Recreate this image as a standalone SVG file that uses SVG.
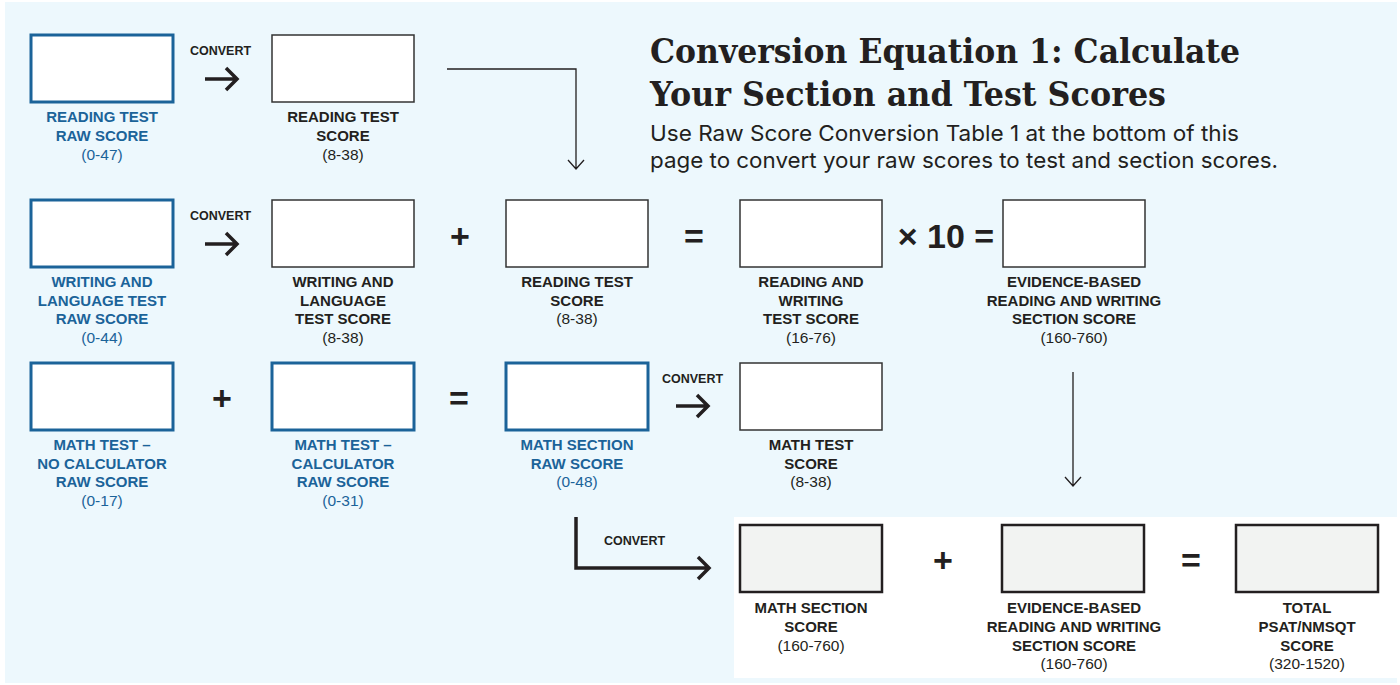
<svg xmlns="http://www.w3.org/2000/svg" width="1400" height="685" viewBox="0 0 1400 685">
<defs>
<style>
.bg{fill:#edf8fd}
.bw{fill:#fff;stroke:#1b6399;stroke-width:3}
.bk{fill:#fff;stroke:#333;stroke-width:1.5}
.bg2{fill:#f2f3f2;stroke:#231f20;stroke-width:2.5}
.lb{font-family:"Liberation Sans",Arial,sans-serif;font-weight:bold;font-size:15px;fill:#231f20;text-anchor:middle}
.rg{font-family:"Liberation Sans",Arial,sans-serif;font-size:15.5px;fill:#231f20;text-anchor:middle}
.blue{fill:#1b6399}
.cv{font-family:"Liberation Sans",Arial,sans-serif;font-weight:bold;font-size:12.5px;fill:#231f20}
.op{font-family:"Liberation Sans",Arial,sans-serif;font-weight:bold;font-size:34px;fill:#231f20;text-anchor:middle}
.thick{fill:none;stroke:#231f20;stroke-width:3.5}
.thin{fill:none;stroke:#231f20;stroke-width:1.3}
.title{font-family:"DejaVu Serif","Liberation Serif",serif;font-weight:bold;font-size:33px;fill:#231f20}
.sub{font-family:Inter,"Liberation Sans",sans-serif;font-size:22px;fill:#231f20}
</style>
</defs>
<rect x="0" y="0" width="1400" height="685" fill="#fff"/>
<rect class="bg" x="5" y="2" width="1392" height="681"/>
<rect x="734" y="517" width="663" height="161" fill="#fff"/>

<g id="title">
<text class="title" x="650" y="63" textLength="590" lengthAdjust="spacingAndGlyphs">Conversion Equation 1: Calculate</text>
<text class="title" x="650" y="106" textLength="516" lengthAdjust="spacingAndGlyphs">Your Section and Test Scores</text>
<text class="sub" x="650" y="141" textLength="589" lengthAdjust="spacingAndGlyphs">Use Raw Score Conversion Table 1 at the bottom of this</text>
<text class="sub" x="650" y="168" textLength="628" lengthAdjust="spacingAndGlyphs">page to convert your raw scores to test and section scores.</text>
</g>

<g id="connectors">
<text class="cv" x="190" y="55">CONVERT</text>
<path class="thick" d="M205 79H237M226 68L237 79L226 90"/>
<text class="cv" x="190" y="220">CONVERT</text>
<path class="thick" d="M205 244H237M226 233L237 244L226 255"/>
<text class="cv" x="662" y="383">CONVERT</text>
<path class="thick" d="M676 406H708M697 395L708 406L697 417"/>
<text class="cv" x="604" y="545">CONVERT</text>
<path class="thick" d="M576 517V568H709M698 557L709 568L698 579"/>
<path class="thin" d="M447 69H576V169M568 160L576 169L584 160"/>
<path class="thin" d="M1073 372V486M1065 477L1073 486L1081 477"/>
</g>

<g id="operators">
<text class="op" x="460" y="248">+</text>
<text class="op" x="694" y="248">=</text>
<text class="op" x="946" y="248">× 10 =</text>
<text class="op" x="222" y="410">+</text>
<text class="op" x="459" y="410">=</text>
<text class="op" x="943" y="572">+</text>
<text class="op" x="1191" y="572">=</text>
</g>

<g id="reading-raw">
<rect class="bw" x="31" y="35" width="142" height="67"/>
<text class="lb blue" x="102" y="122">READING TEST</text>
<text class="lb blue" x="102" y="141">RAW SCORE</text>
<text class="rg blue" x="102" y="160">(0-47)</text>
</g>
<g id="reading-test">
<rect class="bk" x="272" y="35" width="142" height="67"/>
<text class="lb" x="343" y="122">READING TEST</text>
<text class="lb" x="343" y="141">SCORE</text>
<text class="rg" x="343" y="160">(8-38)</text>
</g>

<g id="writing-raw">
<rect class="bw" x="31" y="200" width="142" height="67"/>
<text class="lb blue" x="102" y="287">WRITING AND</text>
<text class="lb blue" x="102" y="306">LANGUAGE TEST</text>
<text class="lb blue" x="102" y="324">RAW SCORE</text>
<text class="rg blue" x="102" y="343">(0-44)</text>
</g>
<g id="writing-test">
<rect class="bk" x="272" y="200" width="142" height="67"/>
<text class="lb" x="343" y="287">WRITING AND</text>
<text class="lb" x="343" y="306">LANGUAGE</text>
<text class="lb" x="343" y="324">TEST SCORE</text>
<text class="rg" x="343" y="343">(8-38)</text>
</g>
<g id="reading-test-2">
<rect class="bk" x="506" y="200" width="142" height="67"/>
<text class="lb" x="577" y="287">READING TEST</text>
<text class="lb" x="577" y="306">SCORE</text>
<text class="rg" x="577" y="324">(8-38)</text>
</g>
<g id="rw-test">
<rect class="bk" x="740" y="200" width="142" height="67"/>
<text class="lb" x="811" y="287">READING AND</text>
<text class="lb" x="811" y="306">WRITING</text>
<text class="lb" x="811" y="324">TEST SCORE</text>
<text class="rg" x="811" y="343">(16-76)</text>
</g>
<g id="ebrw-section">
<rect class="bk" x="1003" y="200" width="142" height="67"/>
<text class="lb" x="1074" y="287">EVIDENCE-BASED</text>
<text class="lb" x="1074" y="306">READING AND WRITING</text>
<text class="lb" x="1074" y="324">SECTION SCORE</text>
<text class="rg" x="1074" y="343">(160-760)</text>
</g>

<g id="math-nocalc">
<rect class="bw" x="31" y="363" width="142" height="67"/>
<text class="lb blue" x="102" y="450">MATH TEST –</text>
<text class="lb blue" x="102" y="469">NO CALCULATOR</text>
<text class="lb blue" x="102" y="487">RAW SCORE</text>
<text class="rg blue" x="102" y="506">(0-17)</text>
</g>
<g id="math-calc">
<rect class="bw" x="272" y="363" width="142" height="67"/>
<text class="lb blue" x="343" y="450">MATH TEST –</text>
<text class="lb blue" x="343" y="469">CALCULATOR</text>
<text class="lb blue" x="343" y="487">RAW SCORE</text>
<text class="rg blue" x="343" y="506">(0-31)</text>
</g>
<g id="math-raw">
<rect class="bw" x="506" y="363" width="142" height="67"/>
<text class="lb blue" x="577" y="450">MATH SECTION</text>
<text class="lb blue" x="577" y="469">RAW SCORE</text>
<text class="rg blue" x="577" y="487">(0-48)</text>
</g>
<g id="math-test">
<rect class="bk" x="740" y="363" width="142" height="67"/>
<text class="lb" x="811" y="450">MATH TEST</text>
<text class="lb" x="811" y="469">SCORE</text>
<text class="rg" x="811" y="487">(8-38)</text>
</g>

<g id="math-section">
<rect class="bg2" x="740" y="525" width="142" height="67"/>
<text class="lb" x="811" y="613">MATH SECTION</text>
<text class="lb" x="811" y="632">SCORE</text>
<text class="rg" x="811" y="651">(160-760)</text>
</g>
<g id="ebrw-section-2">
<rect class="bg2" x="1002" y="525" width="142" height="67"/>
<text class="lb" x="1074" y="613">EVIDENCE-BASED</text>
<text class="lb" x="1074" y="632">READING AND WRITING</text>
<text class="lb" x="1074" y="651">SECTION SCORE</text>
<text class="rg" x="1074" y="669">(160-760)</text>
</g>
<g id="total">
<rect class="bg2" x="1236" y="525" width="142" height="67"/>
<text class="lb" x="1307" y="613">TOTAL</text>
<text class="lb" x="1307" y="632">PSAT/NMSQT</text>
<text class="lb" x="1307" y="651">SCORE</text>
<text class="rg" x="1307" y="669">(320-1520)</text>
</g>
</svg>
